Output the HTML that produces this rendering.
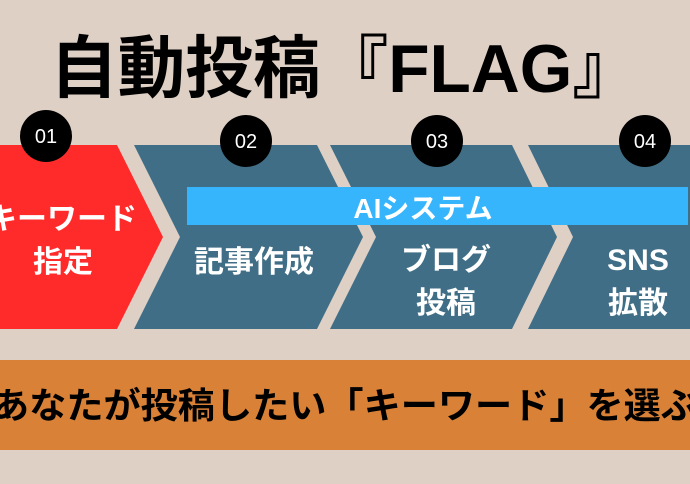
<!DOCTYPE html>
<html><head><meta charset="utf-8"><style>
body{margin:0;width:690px;height:484px;overflow:hidden;background:#dfd0c6;font-family:"Liberation Sans","Noto Sans CJK JP",sans-serif;}
</style></head><body>
<svg width="690" height="484" xmlns="http://www.w3.org/2000/svg" style="position:absolute;left:0;top:0">
<rect width="690" height="484" fill="#dfd0c6"/>
<text x="50" y="92" font-size="68" font-weight="bold" fill="#000" textLength="590" lengthAdjust="spacingAndGlyphs" font-family="Liberation Sans, Noto Sans CJK JP, sans-serif">自動投稿『FLAG』</text>
<polygon points="0,145 117,145 163,237 117,329 0,329" fill="#ff2b2b"/>
<polygon points="134,145 317,145 363,237 317,329 134,329 180,237" fill="#406e86"/>
<polygon points="330,145 512,145 557,237 512,329 330,329 376,237" fill="#406e86"/>
<polygon points="528,145 700,145 700,329 528,329 573,237" fill="#406e86"/>
<rect x="187" y="187" width="501" height="38" fill="#36b4fc"/>
<text x="423" y="218" text-anchor="middle" font-size="28" font-weight="bold" fill="#fff" font-family="Liberation Sans, Noto Sans CJK JP, sans-serif">AIシステム</text>
<g fill="#000"><circle cx="46" cy="136" r="26"/><circle cx="246" cy="141" r="26"/><circle cx="437" cy="141" r="26"/><circle cx="645" cy="141" r="26"/></g>
<g fill="#fff" font-size="20" text-anchor="middle" font-family="Liberation Sans, sans-serif">
<text x="46" y="143">01</text><text x="246" y="148">02</text><text x="437" y="148">03</text><text x="645" y="148">04</text></g>
<g fill="#fff" font-size="30" font-weight="bold" text-anchor="middle" font-family="Liberation Sans, Noto Sans CJK JP, sans-serif">
<text x="62" y="229">キーワード</text><text x="63" y="272">指定</text>
<text x="254" y="272">記事作成</text>
<text x="446" y="270">ブログ</text><text x="446" y="313">投稿</text>
<text x="638" y="270">SNS</text><text x="638" y="313">拡散</text></g>
<rect x="0" y="360" width="690" height="90" fill="#d98137"/>
<text x="-8" y="418" font-size="36" font-weight="bold" fill="#000" textLength="706" lengthAdjust="spacingAndGlyphs" font-family="Liberation Sans, Noto Sans CJK JP, sans-serif">あなたが投稿したい「キーワード」を選ぶ</text>
</svg>
</body></html>
